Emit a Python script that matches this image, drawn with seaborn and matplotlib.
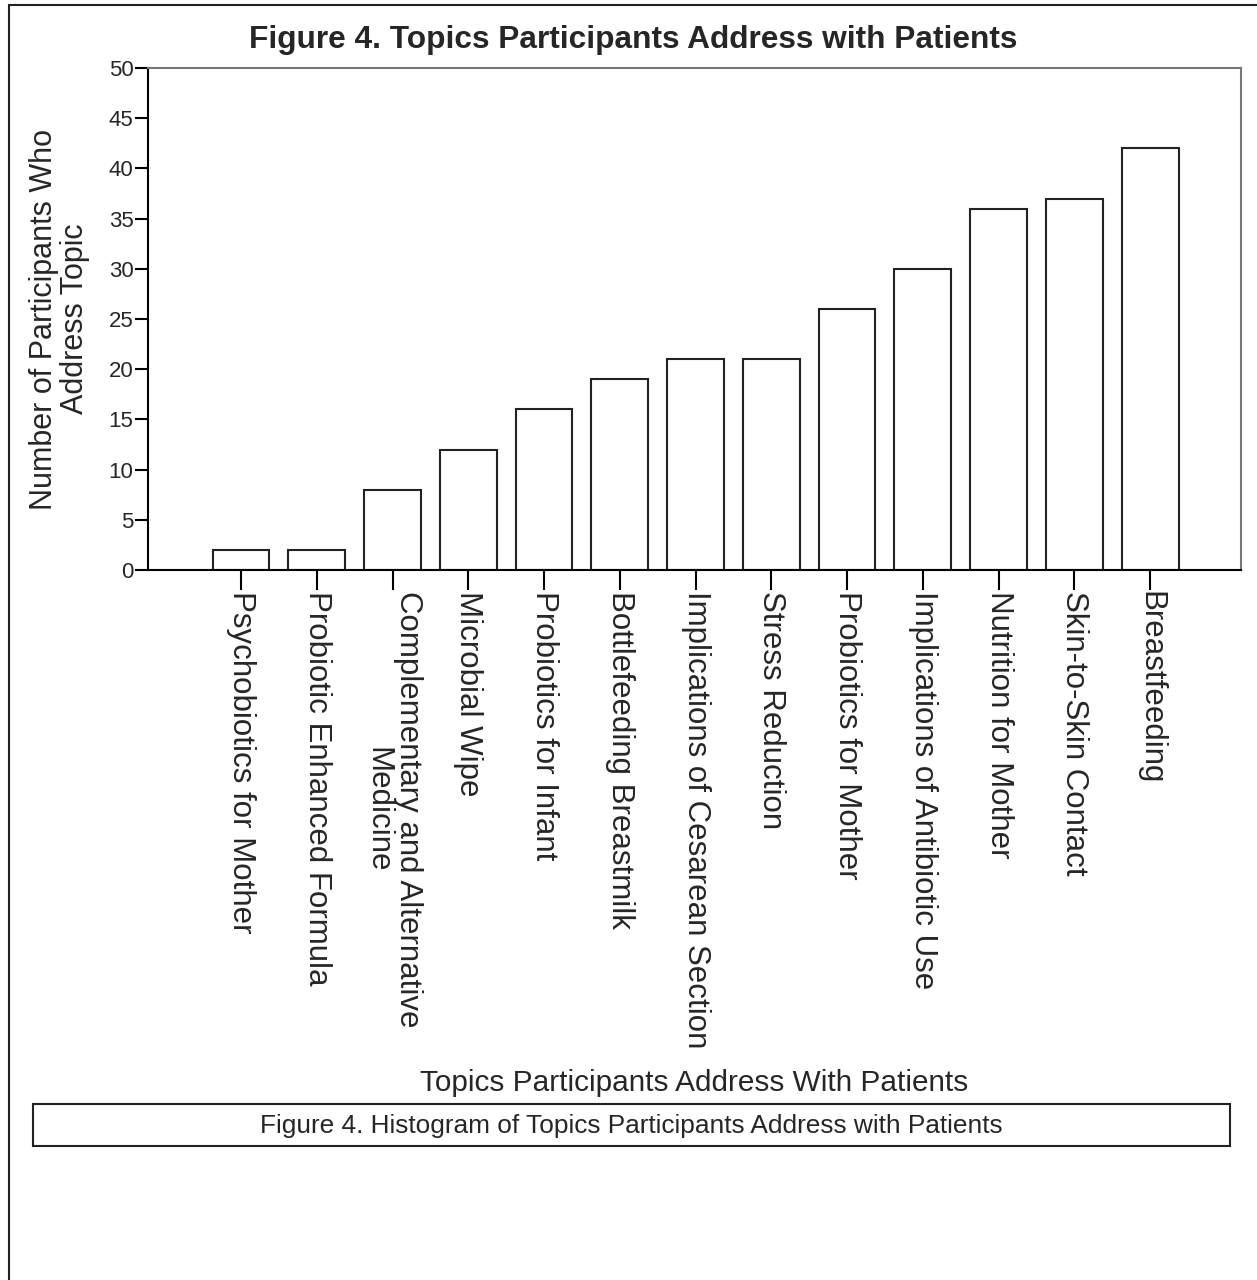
import seaborn as sns
import matplotlib.pyplot as plt
from matplotlib.patches import Rectangle

# data
topics = ["Psychobiotics for Mother", "Probiotic Enhanced Formula",
          "Complementary and Alternative\nMedicine", "Microbial Wipe",
          "Probiotics for Infant", "Bottlefeeding Breastmilk",
          "Implications of Cesarean Section", "Stress Reduction",
          "Probiotics for Mother", "Implications of Antibiotic Use",
          "Nutrition for Mother", "Skin-to-Skin Contact", "Breastfeeding"]
counts = [2, 2, 8, 12, 16, 19, 21, 21, 26, 30, 36, 37, 42]
yticks = list(range(0, 51, 5))

sns.set_theme(style="white")
plt.rcParams['font.family'] = ['Liberation Sans', 'DejaVu Sans']

W, H = 1257, 1280
fig = plt.figure(figsize=(W / 100, H / 100), dpi=100)
ax = fig.add_axes([148 / W, 1 - 570 / H, 1093 / W, 502 / H])

sns.barplot(x=topics, y=counts, order=topics, color="white",
            edgecolor="#222222", linewidth=1.5, width=0.75, ax=ax)

ax.set_xlim(-1.228, 13.2)
ax.set_ylim(0, 50)
ax.set_yticks(yticks)
ax.set_yticklabels([str(t) for t in yticks], fontsize=16)
ax.set_xticks(range(len(topics)))
ax.set_xticklabels(topics, rotation=270, fontsize=22.5, ha="center", va="top",
                   linespacing=1.0)

ax.tick_params(axis="x", direction="out", length=14.4, width=1.5, pad=1,
               color="black", bottom=True)
ax.tick_params(axis="y", direction="out", length=9.4, width=1.5, pad=1,
               color="black", left=True)

for side in ["left", "bottom"]:
    ax.spines[side].set_color("black")
    ax.spines[side].set_linewidth(1.5)
for side in ["top", "right"]:
    ax.spines[side].set_color("#777777")
    ax.spines[side].set_linewidth(1.5)

ax.set_xlabel("Topics Participants Address With Patients", fontsize=21.4)
ax.xaxis.set_label_coords(0.5, -0.994)
ax.set_ylabel("Number of Participants Who\nAddress Topic", fontsize=22,
              linespacing=1.05)
ax.yaxis.set_label_coords(-0.053, 0.5)

fig.text(633 / W, 1 - 40 / H, "Figure 4. Topics Participants Address with Patients",
         ha="center", va="center", fontsize=22.8, fontweight="bold")

# caption box
fig.patches.append(Rectangle((33 / W, 1 - 1146 / H), 1197 / W, 42 / H,
                             transform=fig.transFigure, fill=False,
                             edgecolor="#222222", linewidth=1.5))
fig.text(631 / W, 1 - 1126 / H,
         "Figure 4. Histogram of Topics Participants Address with Patients",
         ha="center", va="center", fontsize=18.9)

# outer frame
fig.patches.append(Rectangle((9 / W, -0.1), 1.2, 1 - 5 / H + 0.1,
                             transform=fig.transFigure, fill=False,
                             edgecolor="#222222", linewidth=1.5))

fig.savefig("out.png", dpi=100)
